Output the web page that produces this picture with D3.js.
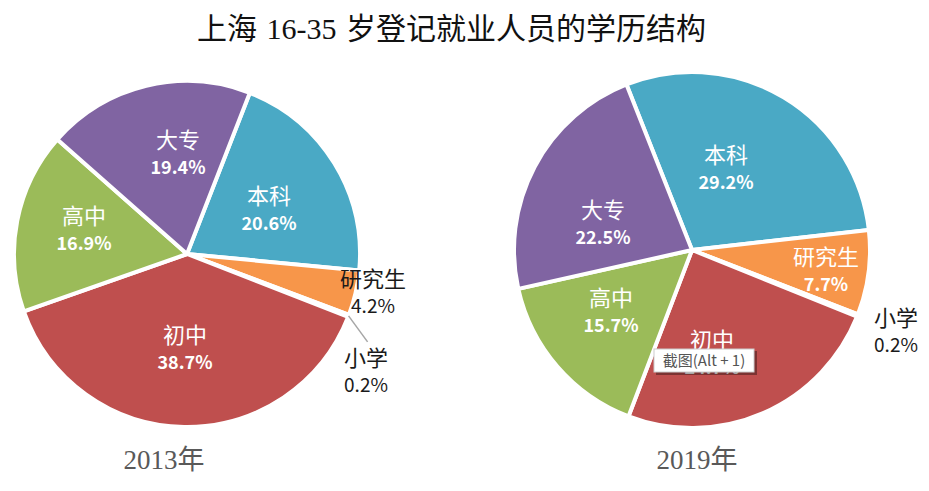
<!DOCTYPE html>
<html>
<head>
<meta charset="utf-8">
<script src="https://cdn.jsdelivr.net/npm/d3@7"></script>
<style>
    html, body { margin: 0; padding: 0; background: #fff; }
    svg { display: block; }
</style>
</head>
<body>
<svg id="chart" width="929" height="491"></svg>
<script>
const categories = ['本科', '研究生', '小学', '初中', '高中', '大专'];
const values2013 = [20.6, 4.2, 0.2, 38.7, 16.9, 19.4];
const values2019 = [29.2, 7.7, 0.2, 24.7, 15.7, 22.5];
const colors = ['#4aa9c5', '#f7964a', '#d9d9d9', '#bf4f4e', '#9bbb59', '#8064a2'];

const svg = d3.select('svg#chart');
const sansFont = '"Noto Sans CJK SC", "Open Sans", sans-serif';
const serifFont = '"Liberation Serif", "Noto Sans CJK SC", serif';

// label position for each category, as offsets from the pie center
const labels2013 = [
    { dx: 82, dy: -46, fill: '#fff' },
    { dx: 186, dy: 37, fill: '#1a1a1a' },
    { dx: 179, dy: 116, fill: '#1a1a1a' },
    { dx: -2, dy: 93, fill: '#fff' },
    { dx: -103, dy: -26, fill: '#fff' },
    { dx: -9, dy: -102, fill: '#fff' }
];
const labels2019 = [
    { dx: 34, dy: -83, fill: '#fff' },
    { dx: 134, dy: 19, fill: '#fff' },
    { dx: 204, dy: 80, fill: '#1a1a1a' },
    { dx: 20, dy: 102, fill: '#fff' },
    { dx: -81, dy: 60, fill: '#fff' },
    { dx: -89, dy: -28, fill: '#fff' }
];

drawTitle();
drawPie(values2013, labels2013, 187, 254, 173, 21.3, '2013年', 164);
drawPie(values2019, labels2019, 692, 250, 178, -21.6, '2019年', 697);
drawTooltip();

function drawTitle() {
    svg.append('text')
        .text('上海 16-35 岁登记就业人员的学历结构')
        .attr('x', 451.5)
        .attr('y', 39)
        .attr('text-anchor', 'middle')
        .attr('font-family', serifFont)
        .attr('font-size', 30)
        .attr('word-spacing', 2)
        .attr('fill', '#111');
}

function drawPie(values, labels, cx, cy, radius, startDeg, yearText, yearX) {
    const start = startDeg * Math.PI / 180;
    const pie = d3.pie().sort(null).startAngle(start).endAngle(start + 2 * Math.PI);
    const arc = d3.arc().innerRadius(0).outerRadius(radius);
    const slices = pie(values);
    const g = svg.append('g').attr('transform', `translate(${cx},${cy})`);

    g.selectAll('path')
        .data(slices)
        .enter()
        .append('path')
        .attr('d', arc)
        .attr('fill', (d, i) => colors[i])
        .attr('stroke', '#fff')
        .attr('stroke-width', 4)
        .attr('stroke-linejoin', 'round');

    // leader line only on the 2013 small slice
    if (yearText === '2013年') {
        const mid = (slices[2].startAngle + slices[2].endAngle) / 2;
        const p = d3.pointRadial(mid, radius);
        g.append('line')
            .attr('x1', p[0])
            .attr('y1', p[1])
            .attr('x2', p[0] + 19)
            .attr('y2', p[1] + 26)
            .attr('stroke', '#a6a6a6')
            .attr('stroke-width', 1.5);
    }

    slices.forEach((d, i) => {
        const label = labels[i];
        const inside = label.fill === '#fff';
        g.append('text')
            .text(categories[i])
            .attr('x', label.dx)
            .attr('y', label.dy - 4)
            .attr('text-anchor', 'middle')
            .attr('font-family', sansFont)
            .attr('font-size', 22)
            .attr('fill', label.fill);
        g.append('text')
            .text(values[i].toFixed(1) + '%')
            .attr('x', label.dx)
            .attr('y', label.dy + 22)
            .attr('text-anchor', 'middle')
            .attr('font-family', sansFont)
            .attr('font-size', inside ? 18 : 19)
            .attr('font-weight', inside ? 700 : 400)
            .attr('fill', label.fill);
    });

    svg.append('text')
        .text(yearText)
        .attr('x', yearX)
        .attr('y', 469)
        .attr('text-anchor', 'middle')
        .attr('font-family', serifFont)
        .attr('font-size', 27)
        .attr('fill', '#595959');
}

// screenshot-tool tooltip that sits over the 2019 pie in the source image
function drawTooltip() {
    const tip = svg.append('g').attr('transform', 'translate(654,349)');
    tip.append('rect')
        .attr('x', 2).attr('y', 2)
        .attr('width', 101).attr('height', 24)
        .attr('fill', '#000').attr('opacity', 0.35);
    tip.append('rect')
        .attr('width', 100).attr('height', 23)
        .attr('fill', '#fff').attr('stroke', '#ccc');
    tip.append('text')
        .text('截图(Alt + 1)')
        .attr('x', 50).attr('y', 17)
        .attr('text-anchor', 'middle')
        .attr('font-family', sansFont)
        .attr('font-size', 15)
        .attr('fill', '#555');
}
</script>
</body>
</html>
